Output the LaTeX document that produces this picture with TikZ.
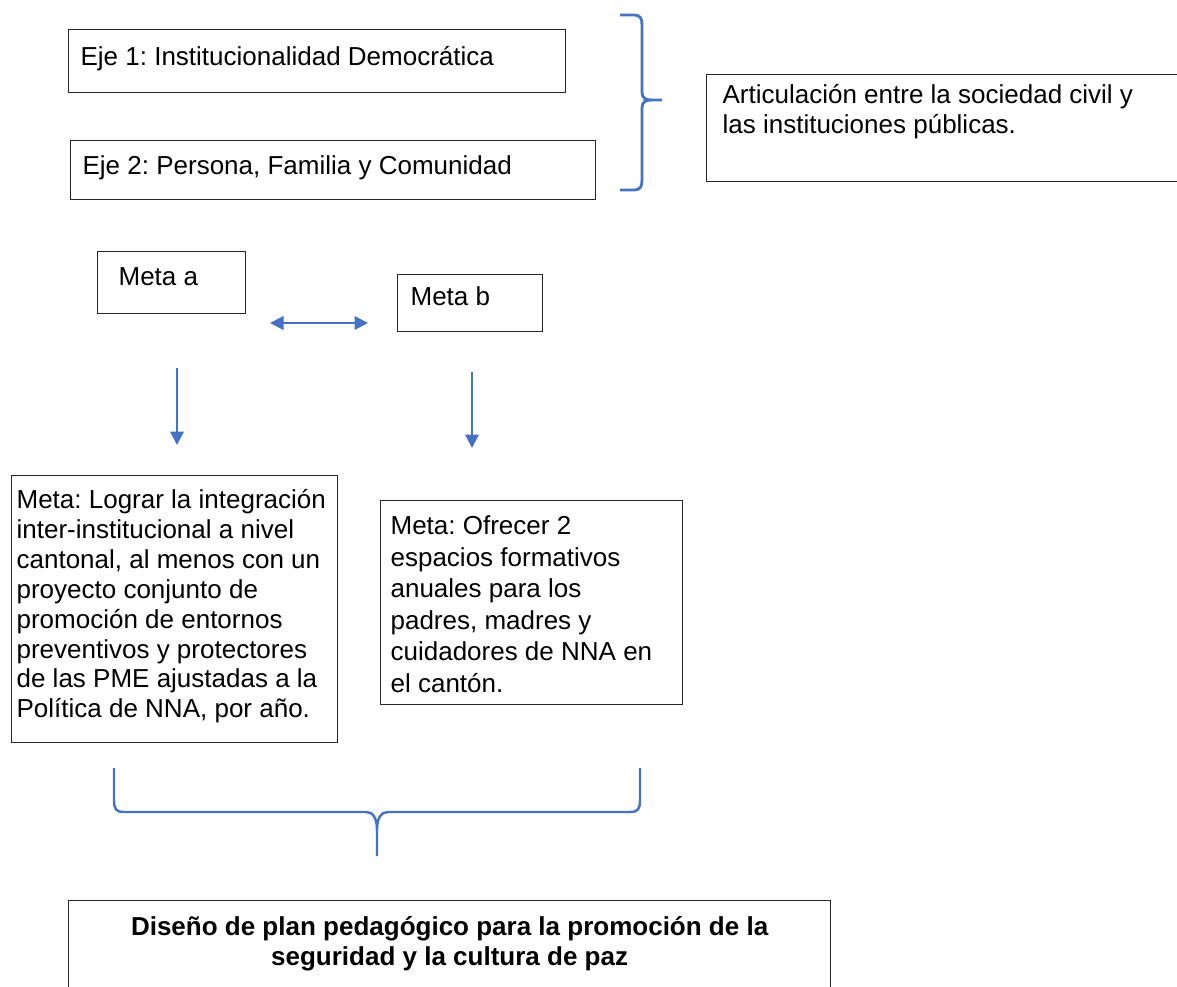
\documentclass[tikz,border=0pt]{standalone}
\usepackage{fontspec}
\setmainfont{Liberation Sans}
\usepackage{tikz}
\usetikzlibrary{arrows.meta,positioning,calc}

\definecolor{azul}{HTML}{4472C4}
\frenchspacing
\newdimen\pxu
\pxu=0.02cm
% texto arriba a la izquierda dentro de una caja de tamano fijo
\newcommand{\textocaja}[3]{\parbox[t][#2\pxu][t]{#1\pxu}{\raggedright #3}}

\begin{document}
\begin{tikzpicture}[x=0.02cm,y=-0.02cm,
  font=\fontsize{14.8pt}{17pt}\selectfont,
  >={Triangle[length=0.27cm,width=0.27cm]},
  caja/.style={draw=black!85,line width=0.7pt,anchor=north west,inner sep=0pt},
  llave/.style={draw=azul,line width=1.6pt},
  enlace/.style={draw=azul,line width=1.3pt}]
\useasboundingbox (0,0) rectangle (1177,987);
\clip (0,0) rectangle (1177,987);

% ejes
\node[caja,inner xsep=0.24cm,inner ysep=0.34cm] (eje1) at (68,29)
  {\textocaja{473}{29}{Eje 1: Institucionalidad Democrática}};
\node[caja,inner xsep=0.24cm,inner ysep=0.30cm] (eje2) at (70,140)
  {\textocaja{501}{29}{Eje 2: Persona, Familia y Comunidad}};
\node[caja,inner xsep=0.32cm,inner ysep=0.20cm] (articulacion) at (706,74)
  {\textocaja{468}{87}{Articulación entre la sociedad civil y\\las instituciones públicas.}};

% llave de los ejes
\draw[llave] (620,15) -- (634,15) .. controls (640,15) and (642,18) .. (642,25)
  -- (642,92) .. controls (642,98) and (645,100) .. (652,100) -- (662,100)
  -- (652,100) .. controls (645,100) and (642,102) .. (642,108)
  -- (642,180) .. controls (642,187) and (640,190) .. (634,190) -- (620,190);

% metas
\node[caja,inner xsep=0.42cm,inner ysep=0.32cm] (metaa) at (97,251)
  {\textocaja{106}{30}{Meta a}};
\node[caja,inner xsep=0.26cm,inner ysep=0.24cm] (metab) at (397,274)
  {\textocaja{119}{33}{Meta b}};

\coordinate (ida) at (270,323);
\coordinate (vuelta) at (368,323);
\draw[enlace,<->] (ida) -- (vuelta);

\coordinate (bajaa1) at (177,368);
\coordinate (bajaa2) at (177,445);
\coordinate (bajab1) at (472,372);
\coordinate (bajab2) at (472,448);
\draw[enlace,->] (bajaa1) -- (bajaa2);
\draw[enlace,->] (bajab1) -- (bajab2);

\node[caja,inner xsep=0.10cm,inner ysep=0.28cm] (logro) at (11,475)
  {\textocaja{316}{239}{Meta: Lograr la integración\\
   inter-institucional a nivel\\
   cantonal, al menos con un\\
   proyecto conjunto de\\
   promoción de entornos\\
   preventivos y protectores\\
   de las PME ajustadas a la\\
   Política de NNA, por año.}};
\node[caja,inner xsep=0.20cm,inner ysep=0.30cm] (oferta) at (380,500)
  {\textocaja{282}{174}{\fontsize{14.8pt}{18pt}\selectfont Meta: Ofrecer 2\\
   espacios formativos\\
   anuales para los\\
   padres, madres y\\
   cuidadores de NNA en\\
   el cantón.}};

% llave inferior
\draw[llave,line width=1.4pt] (114,768) -- (114,800) .. controls (114,809) and (116,812) .. (124,812)
  -- (366,812) .. controls (373,812) and (377,818) .. (377,830) -- (377,856)
  -- (377,830) .. controls (377,818) and (381,812) .. (388,812)
  -- (630,812) .. controls (638,812) and (640,809) .. (640,800) -- (640,768);

\node[caja,inner xsep=0.20cm,inner ysep=0.32cm] (plan) at (68,900)
  {\parbox[t][88\pxu][t]{742\pxu}{\centering\bfseries
   Diseño de plan pedagógico para la promoción de la\\
   seguridad y la cultura de paz}};
\end{tikzpicture}
\end{document}
